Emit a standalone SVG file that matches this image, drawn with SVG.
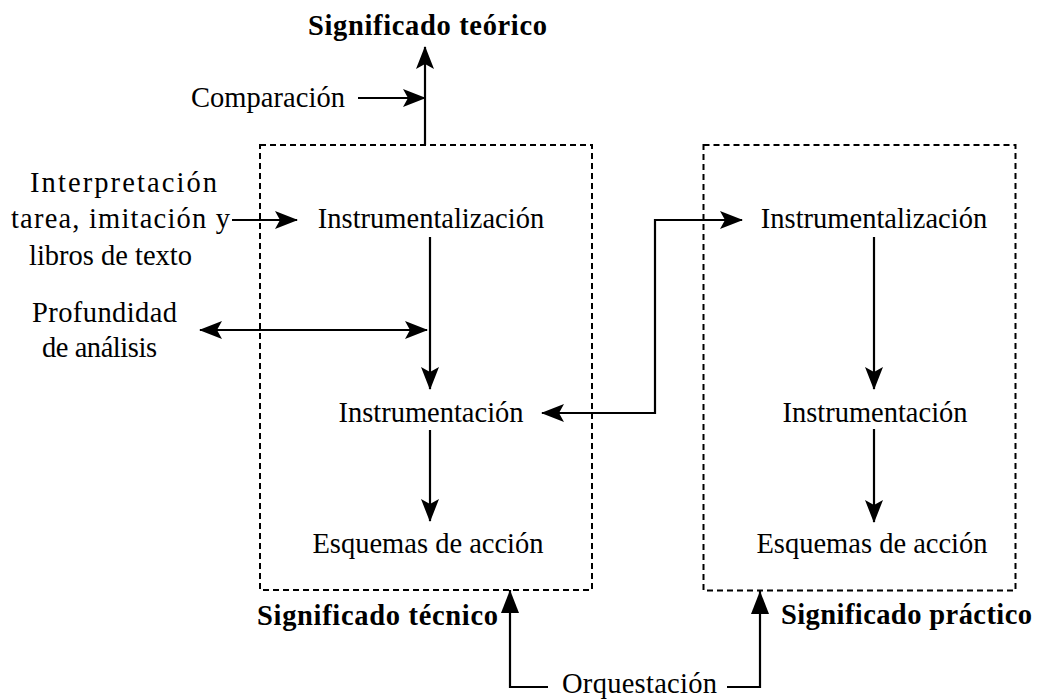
<svg xmlns="http://www.w3.org/2000/svg" width="1037" height="700" viewBox="0 0 1037 700">
<style>
text{font-family:"Liberation Serif","Times New Roman",serif;fill:#000;font-size:28.5px}
.b{font-weight:bold}
.box{fill:none;stroke:#000;stroke-width:2;stroke-dasharray:6 4}
.c{fill:none;stroke:#000;stroke-width:2.2}
</style>
<defs>
<marker id="st" markerUnits="userSpaceOnUse" viewBox="0 0 23 18" refX="22" refY="9" markerWidth="23" markerHeight="18" orient="auto-start-reverse"><path d="M0,0 L23,9 L0,18 L5,9 Z" fill="#000"/></marker>
<marker id="tri" markerUnits="userSpaceOnUse" viewBox="0 0 23 18" refX="23" refY="9" markerWidth="23" markerHeight="18" orient="auto"><path d="M0,0 L23,9 L0,18 Z" fill="#000"/></marker>
</defs>
<rect width="1037" height="700" fill="#fff"/>
<g id="left-box">
<rect class="box" x="260" y="145" width="332" height="445"/>
<text x="431" y="228" text-anchor="middle">Instrumentalización</text>
<text x="431" y="422" text-anchor="middle">Instrumentación</text>
<text x="428" y="553" text-anchor="middle">Esquemas de acción</text>
</g>
<g id="right-box">
<rect class="box" x="703.5" y="145" width="312" height="445.5"/>
<text x="874" y="228" text-anchor="middle">Instrumentalización</text>
<text x="875" y="422" text-anchor="middle">Instrumentación</text>
<text x="872" y="553" text-anchor="middle">Esquemas de acción</text>
</g>
<g id="sig-teorico"><text class="b" x="308" y="35" textLength="239" lengthAdjust="spacing">Significado teórico</text></g>
<g id="sig-tecnico"><text class="b" x="257" y="625" textLength="241" lengthAdjust="spacing">Significado técnico</text></g>
<g id="sig-practico"><text class="b" x="781" y="624" textLength="251" lengthAdjust="spacing">Significado práctico</text></g>
<g id="comparacion"><text x="191" y="107" textLength="154" lengthAdjust="spacing">Comparación</text></g>
<g id="interpretacion">
<text x="30" y="192" textLength="187" lengthAdjust="spacing">Interpretación</text>
<text x="11" y="228" textLength="219" lengthAdjust="spacing">tarea, imitación y</text>
<text x="29" y="265" textLength="163" lengthAdjust="spacing">libros de texto</text>
</g>
<g id="profundidad">
<text x="32" y="322" textLength="145" lengthAdjust="spacing">Profundidad</text>
<text x="42" y="357" textLength="115" lengthAdjust="spacing">de análisis</text>
</g>
<g id="orquestacion"><text x="562" y="693" textLength="155" lengthAdjust="spacing">Orquestación</text></g>
<g id="connectors">
<path class="c" d="M425,145 L425,47" marker-end="url(#st)"/>
<path class="c" d="M358,98 L425,98" marker-end="url(#st)"/>
<path class="c" d="M232,220 L297,220" marker-end="url(#st)"/>
<path class="c" d="M430,237 L430,389" marker-end="url(#st)"/>
<path class="c" d="M200,330 L427,330" marker-start="url(#st)" marker-end="url(#st)"/>
<path class="c" d="M430,430 L430,521" marker-end="url(#st)"/>
<path class="c" d="M542,413 H655 V220 H742" marker-start="url(#st)" marker-end="url(#st)"/>
<path class="c" d="M874,237 L874,389" marker-end="url(#st)"/>
<path class="c" d="M874,429 L874,522" marker-end="url(#st)"/>
<path class="c" d="M548,687 H510 V590" marker-end="url(#tri)"/>
<path class="c" d="M727,687 H760 V591" marker-end="url(#tri)"/>
</g>
</svg>
